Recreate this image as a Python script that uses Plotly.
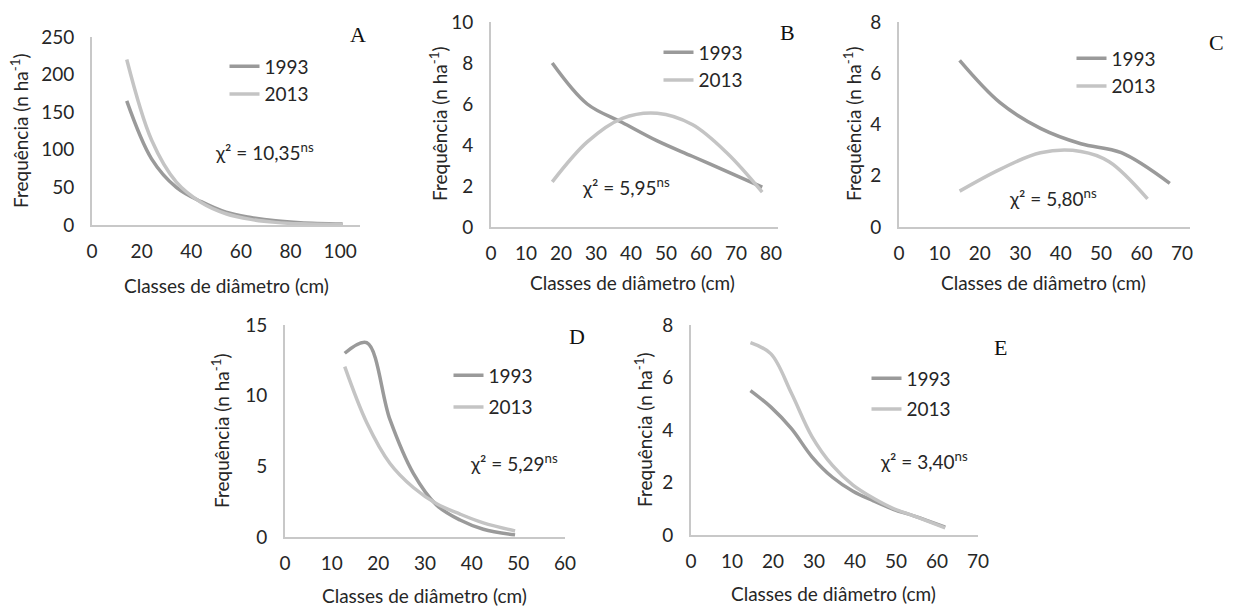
import plotly.graph_objects as go

W, H = 1234, 607

# ---------------- data ----------------
a_x93 = [14, 24, 34, 44, 54, 64, 74, 84, 101]
a_y93 = [165, 88, 50, 31, 17, 10, 5.5, 3, 1.2]
a_x13 = [14, 24, 34, 44, 54, 64, 74, 84, 101]
a_y13 = [220, 113, 57, 30, 15, 7.5, 3.5, 1.5, 0.5]

b_x93 = [17.5, 27.5, 37.5, 47.5, 57.5, 67.5, 77.5]
b_y93 = [8.0, 6.0, 5.1, 4.2, 3.45, 2.7, 1.95]
b_x13 = [17.5, 27.5, 37.5, 47.5, 57.5, 67.5, 77.5]
b_y13 = [2.2, 4.15, 5.3, 5.55, 5.0, 3.6, 1.7]

c_x93 = [15, 25, 35, 45, 55, 67]
c_y93 = [6.5, 4.85, 3.85, 3.25, 2.9, 1.7]
c_x13 = [15, 25, 35, 45, 52, 61.5]
c_y13 = [1.4, 2.25, 2.9, 2.95, 2.55, 1.1]

d_x93 = [12.8, 17.5, 22.5, 27.5, 32.5, 37.5, 42.5, 49.3]
d_y93 = [13.0, 13.75, 8.3, 4.5, 2.25, 1.2, 0.55, 0.15]
d_x13 = [12.8, 17.5, 22.5, 27.5, 32.5, 37.5, 42.5, 49.3]
d_y13 = [12.05, 8.1, 5.2, 3.5, 2.35, 1.62, 1.0, 0.43]

e_x93 = [14.5, 19.5, 24.5, 29.5, 34.5, 39.5, 44.5, 49.5, 54.5, 62]
e_y93 = [5.5, 4.87, 4.05, 2.98, 2.2, 1.67, 1.3, 0.97, 0.72, 0.3]
e_x13 = [14.5, 19.5, 24.5, 29.5, 34.5, 39.5, 44.5, 49.5, 54.5, 62]
e_y13 = [7.33, 6.9, 5.4, 3.75, 2.65, 1.9, 1.4, 1.0, 0.72, 0.27]

series_names = ["1993", "2013"]
panel_letters = ["A", "B", "C", "D", "E"]
chi_labels = ["10,35", "5,95", "5,80", "5,29", "3,40"]
x_title = "Classes de diâmetro (cm)"
y_title = "Frequência (n ha<sup>-1</sup>)"

# ---------------- styling / layout ----------------
C93 = "#9a9a9a"
C13 = "#c4c4c4"
AXC = "#c8c8c8"
TXT = "#262626"
FONT = "Lato"
FS = 19


def fx(px):
    return px / W


def fy(py):
    return 1 - py / H


panels = [
    dict(data=(a_x93, a_y93, a_x13, a_y13), xd=(92, 360), yd=(37, 225), xr=[0, 108], yr=[0, 250],
         dx=20, dy=50, xt=[0, 20, 40, 60, 80, 100], letter=(358, 34), chi=(213, 152),
         leg=(263, 67), gap=0, xtitle=(226, 285), ytitle=(20, 131)),
    dict(data=(b_x93, b_y93, b_x13, b_y13), xd=(491, 778), yd=(22, 227), xr=[0, 82], yr=[0, 10],
         dx=10, dy=2, xt=None, letter=(787, 33), chi=(580, 186),
         leg=(697, 53), gap=0, xtitle=(632, 282), ytitle=(438, 124)),
    dict(data=(c_x93, c_y93, c_x13, c_y13), xd=(899, 1190), yd=(22, 227), xr=[0, 72], yr=[0, 8],
         dx=10, dy=2, xt=None, letter=(1216, 42), chi=(1007, 197),
         leg=(1110, 59), gap=0, xtitle=(1043, 282), ytitle=(852, 124)),
    dict(data=(d_x93, d_y93, d_x13, d_y13), xd=(285, 565), yd=(325, 537), xr=[0, 60], yr=[0, 15],
         dx=10, dy=5, xt=None, letter=(577, 337), chi=(468, 462),
         leg=(487, 376), gap=4, xtitle=(424, 595), ytitle=(220, 431)),
    dict(data=(e_x93, e_y93, e_x13, e_y13), xd=(691, 978), yd=(325, 535), xr=[0, 70], yr=[0, 8],
         dx=10, dy=2, xt=None, letter=(1000, 347), chi=(878, 460),
         leg=(905, 379), gap=3, xtitle=(833, 593), ytitle=(643, 430)),
]

fig = go.Figure()
layout = dict(
    width=W, height=H, margin=dict(l=0, r=0, t=0, b=0, pad=0, autoexpand=False),
    paper_bgcolor="white", plot_bgcolor="white",
    font=dict(family=FONT, size=FS, color=TXT),
    annotations=[],
)

for i, p in enumerate(panels):
    n = "" if i == 0 else str(i + 1)
    leg = "legend" if i == 0 else f"legend{i + 1}"
    x93, y93, x13, y13 = p["data"]
    for xs, ys, name, col in ((x93, y93, series_names[0], C93), (x13, y13, series_names[1], C13)):
        fig.add_trace(go.Scatter(
            x=xs, y=ys, mode="lines", name=name,
            line=dict(color=col, width=3.5, shape="spline", smoothing=1.0),
            xaxis="x" + n, yaxis="y" + n, legend=leg, legendgroup=f"{leg}-{name}",
            hoverinfo="skip",
        ))
    xax = dict(domain=[fx(p["xd"][0]), fx(p["xd"][1])], range=p["xr"], anchor="y" + n,
               showgrid=False, zeroline=False, showline=True, linecolor=AXC, linewidth=2,
               ticks="", dtick=p["dx"], tick0=0, ticklabelstandoff=8, fixedrange=True,
               automargin=False)
    if p["xt"] is not None:
        xax.update(tickmode="array", tickvals=p["xt"])
    yax = dict(domain=[fy(p["yd"][1]), fy(p["yd"][0])], range=p["yr"], anchor="x" + n,
               showgrid=False, zeroline=False, showline=True, linecolor=AXC, linewidth=2,
               ticks="", dtick=p["dy"], tick0=0, ticklabelstandoff=12, fixedrange=True,
               automargin=False)
    layout["xaxis" + n] = xax
    layout["yaxis" + n] = yax
    layout[leg] = dict(
        x=fx(p["leg"][0] - 38.5), y=fy(p["leg"][1] - 19.5), xanchor="left", yanchor="top",
        bgcolor="rgba(0,0,0,0)", borderwidth=0, font=dict(family=FONT, size=FS, color=TXT),
        tracegroupgap=p["gap"], itemclick=False, itemdoubleclick=False,
    )
    anns = layout["annotations"]
    anns.append(dict(text=panel_letters[i], x=fx(p["letter"][0]), y=fy(p["letter"][1]),
                     xref="paper", yref="paper", xanchor="center", yanchor="middle", showarrow=False,
                     font=dict(family="Liberation Serif", size=22, color="#111111")))
    anns.append(dict(text=f"χ² = {chi_labels[i]}<sup>ns</sup>", x=fx(p["chi"][0]), y=fy(p["chi"][1]),
                     xref="paper", yref="paper", xanchor="left", yanchor="middle", showarrow=False,
                     font=dict(family=FONT, size=FS, color=TXT)))
    anns.append(dict(text=x_title, x=fx(p["xtitle"][0]), y=fy(p["xtitle"][1]),
                     xref="paper", yref="paper", xanchor="center", yanchor="middle", showarrow=False,
                     font=dict(family=FONT, size=FS, color=TXT)))
    anns.append(dict(text=y_title, x=fx(p["ytitle"][0]), y=fy(p["ytitle"][1]), textangle=-90,
                     xref="paper", yref="paper", xanchor="center", yanchor="middle", showarrow=False,
                     font=dict(family=FONT, size=FS, color=TXT)))

fig.update_layout(**layout)
fig.write_html("out.html")
